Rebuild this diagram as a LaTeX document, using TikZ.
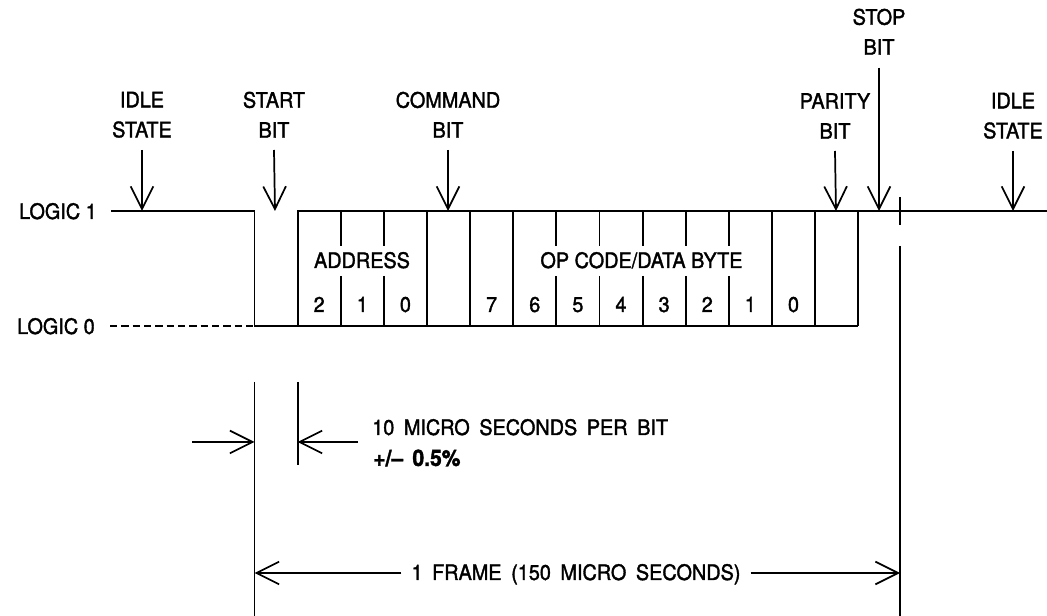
\documentclass[tikz,border=0pt]{standalone}
\usepackage{fontspec}
\setmainfont{TeX Gyre Heros}[FakeStretch=0.93, FakeBold=1.6]
\usetikzlibrary{arrows.meta}
\newcommand\widespace{\spaceskip=0.45em\relax}
\begin{document}
\begin{tikzpicture}[x=0.75pt,y=-0.75pt,
  lbl/.style={font=\fontsize{16}{22.5}\selectfont, inner sep=0pt, align=center, anchor=south},
  txt/.style={font=\fontsize{16}{18}\selectfont, inner sep=0pt},
  wide/.style={execute at begin node=\widespace},
  ptr/.style={line width=1.3pt, -{Straight Barb[length=17pt,width=17pt,line width=1.3pt]}},
  wave/.style={line width=1.4pt}
]
\useasboundingbox (0,0) rectangle (1047,616);

% ---- labels with arrows ----
\node[lbl] (lIdleL) at (142,138) {IDLE\\STATE};
\node[lbl] (lStart) at (274,138) {START\\BIT};
\node[lbl] (lCmd)   at (448,138) {COMMAND\\BIT};
\node[lbl] (lPar)   at (835,139) {PARITY\\BIT};
\node[lbl] (lStop)  at (879,55)  {STOP\\BIT};
\node[lbl] (lIdleR) at (1013,139) {IDLE\\STATE};

\coordinate (tIdleL) at (142,211);
\coordinate (tStart) at (275,211);
\coordinate (tCmd)   at (448,211);
\coordinate (tPar)   at (836,211);
\coordinate (tStop)  at (879,211);
\coordinate (tIdleR) at (1013,211);

\draw[ptr] ([yshift=-9pt]lIdleL.south) -- (tIdleL);
\draw[ptr] ([yshift=-9pt]lStart.south) -- (tStart);
\draw[ptr] ([yshift=-9pt]lCmd.south) -- (tCmd);
\draw[ptr] ([yshift=-9pt]lPar.south) -- (tPar);
\draw[ptr] ([yshift=-9.5pt]lStop.south) -- (tStop);
\draw[ptr] ([yshift=-9pt]lIdleR.south) -- (tIdleR);

% ---- logic levels ----
\node[txt, anchor=base east] (l1) at (97,219) {LOGIC 1};
\node[txt, anchor=base east] (l0) at (95,334) {LOGIC 0};

% ---- waveform ----
\draw[wave, dash pattern=on 5.5pt off 3pt, line width=1.1pt] (110,326) -- (254.5,326);
\draw[wave] (111,211) -- (254.5,211) -- (254.5,326) -- (858.2,326);
\draw[wave] (297.6,326) -- (297.6,211) -- (1047,211);
\draw[wave] (900,197) -- (900,225);
\foreach \k in {4,5,6,12,13,14}
  \draw[wave] ({254.5+43.12*\k},211) -- ({254.5+43.12*\k},326);
\foreach \k in {2,3,7,8,9,10,11} {
  \draw[wave] ({254.5+43.12*\k},211) -- ({254.5+43.12*\k},246);
  \draw[wave] ({254.5+43.12*\k},276) -- ({254.5+43.12*\k},326);
}

\node[txt, anchor=base] (addr) at (362,268) {ADDRESS};
\node[txt, anchor=base] (opc) at (641.5,268) {OP CODE/DATA BYTE};
\foreach \d [count=\i] in {2,1,0}
  \node[txt, anchor=base] (a\d) at ({254.5+43.12*(\i+0.5)},312) {\d};
\foreach \d [count=\i] in {7,6,5,4,3,2,1,0}
  \node[txt, anchor=base] (o\d) at ({254.5+43.12*(\i+4.5)},312) {\d};

% ---- bit time dimension ----
\draw[wave] (254.5,382) -- (254.5,616);
\draw[wave] (297.6,382) -- (297.6,465);
\draw[wave] (900,246) -- (900,616);
\coordinate (bitL) at (254.5,442);
\coordinate (bitR) at (297.6,442);
\coordinate (aL) at (192,442);
\coordinate (aR) at (358,442);
\draw[ptr] (aL) -- (bitL);
\draw[ptr] (aR) -- (bitR);
\node[txt, wide, anchor=base west] (per) at (372,435) {10 MICRO SECONDS PER BIT};
\node[txt, anchor=base west, font=\fontsize{17}{18}\selectfont\bfseries] (tol) at (373,466) {+/--\hspace{7pt}0.5\%};

% ---- frame dimension ----
\coordinate (fL) at (254.5,573);
\coordinate (fR) at (900,573);
\node[txt, wide, anchor=base, inner xsep=7.5pt] (frame) at (576,580) {1 FRAME (150 MICRO SECONDS)};
\draw[ptr] (frame.west |- fL) -- (fL);
\draw[ptr] (frame.east |- fR) -- (fR);
\end{tikzpicture}
\end{document}
